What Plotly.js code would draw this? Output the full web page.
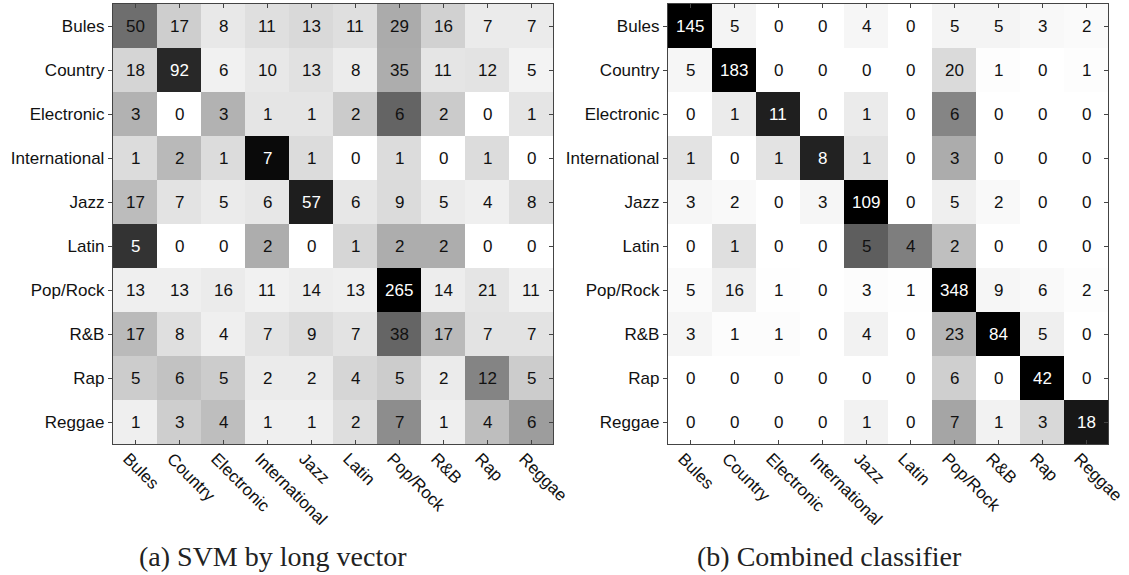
<!DOCTYPE html>
<html>
<head>
<meta charset="utf-8">
<script src="https://cdn.plot.ly/plotly-3.0.1.min.js"></script>
<style>
  html, body { margin: 0; padding: 0; background: #fff; }
  #chart { width: 1129px; height: 575px; }
</style>
</head>
<body>
<div id="chart"></div>
<script>
// Genre labels (rows = true class, columns = predicted class)
const genres = ["Bules", "Country", "Electronic", "International", "Jazz",
                "Latin", "Pop/Rock", "R&B", "Rap", "Reggae"];

// Confusion counts: SVM by long vector
const svmCounts = [
  [50, 17, 8, 11, 13, 11, 29, 16, 7, 7],
  [18, 92, 6, 10, 13, 8, 35, 11, 12, 5],
  [3, 0, 3, 1, 1, 2, 6, 2, 0, 1],
  [1, 2, 1, 7, 1, 0, 1, 0, 1, 0],
  [17, 7, 5, 6, 57, 6, 9, 5, 4, 8],
  [5, 0, 0, 2, 0, 1, 2, 2, 0, 0],
  [13, 13, 16, 11, 14, 13, 265, 14, 21, 11],
  [17, 8, 4, 7, 9, 7, 38, 17, 7, 7],
  [5, 6, 5, 2, 2, 4, 5, 2, 12, 5],
  [1, 3, 4, 1, 1, 2, 7, 1, 4, 6]
];

// Confusion counts: combined classifier
const combinedCounts = [
  [145, 5, 0, 0, 4, 0, 5, 5, 3, 2],
  [5, 183, 0, 0, 0, 0, 20, 1, 0, 1],
  [0, 1, 11, 0, 1, 0, 6, 0, 0, 0],
  [1, 0, 1, 8, 1, 0, 3, 0, 0, 0],
  [3, 2, 0, 3, 109, 0, 5, 2, 0, 0],
  [0, 1, 0, 0, 5, 4, 2, 0, 0, 0],
  [5, 16, 1, 0, 3, 1, 348, 9, 6, 2],
  [3, 1, 1, 0, 4, 0, 23, 84, 5, 0],
  [0, 0, 0, 0, 0, 0, 6, 0, 42, 0],
  [0, 0, 0, 0, 1, 0, 7, 1, 3, 18]
];

const panelCaptions = ["(a) SVM by long vector", "(b) Combined classifier"];

// Shade each cell by its share of the row total
function rowShares(counts) {
  return counts.map(row => {
    const total = row.reduce((a, b) => a + b, 0);
    return row.map(v => total ? v / total : 0);
  });
}

const grayScale = [[0, "#ffffff"], [1, "#000000"]];
const panels = [
  { counts: svmCounts, xa: "x", ya: "y", zmax: 0.52 },
  { counts: combinedCounts, xa: "x2", ya: "y2", zmax: 0.66 }
];

const labelFamily = "Liberation Sans, Arial, Helvetica, sans-serif";

const traces = [];
const annotations = [];
panels.forEach(p => {
  const z = rowShares(p.counts);
  traces.push({
    type: "heatmap",
    x: genres, y: genres, z: z,
    xaxis: p.xa, yaxis: p.ya,
    colorscale: grayScale, zmin: 0, zmax: p.zmax,
    showscale: false, hoverinfo: "skip"
  });
  p.counts.forEach((row, i) => {
    row.forEach((v, j) => {
      const dark = z[i][j] / p.zmax > 0.7;
      annotations.push({
        x: genres[j], y: genres[i], xref: p.xa, yref: p.ya,
        text: String(v), showarrow: false,
        font: { family: labelFamily, size: 17,
                color: dark ? "#ffffff" : "#111111" }
      });
    });
  });
});

// Sub-figure captions
[[0.2418, panelCaptions[0]], [0.7343, panelCaptions[1]]].forEach(([x, t]) => {
  annotations.push({
    x: x, y: -0.2568, xref: "paper", yref: "paper",
    xanchor: "center", yanchor: "middle", showarrow: false, text: t,
    font: { family: "Liberation Serif, Times New Roman, serif", size: 28, color: "#222" }
  });
});

const tickFont = { family: labelFamily, size: 17, color: "#111" };
function xAxis(domain, anchor) {
  return {
    domain: domain, anchor: anchor, type: "category",
    categoryorder: "array", categoryarray: genres,
    range: [-0.5, 9.5], tickangle: 45, tickfont: tickFont,
    ticklabelshift: -7, ticklabelstandoff: -3,
    ticks: "inside", ticklen: 4, tickcolor: "#444", mirror: "ticks",
    showline: true, linecolor: "#444", linewidth: 1.2,
    showgrid: false, zeroline: false, fixedrange: true
  };
}
function yAxis(anchor) {
  return {
    domain: [0, 1], anchor: anchor, type: "category",
    categoryorder: "array", categoryarray: genres,
    range: [9.5, -0.5], tickfont: tickFont,
    ticks: "outside", ticklen: 4, tickcolor: "#444",
    showline: true, linecolor: "#444", linewidth: 1.2, mirror: true,
    showgrid: false, zeroline: false, fixedrange: true
  };
}
// Right-hand axes carrying only the inward tick marks
function rightTicks(overlay, anchor) {
  return {
    overlaying: overlay, anchor: anchor, side: "right", type: "category",
    categoryorder: "array", categoryarray: genres, range: [9.5, -0.5],
    showticklabels: false, ticks: "inside", ticklen: 4, tickcolor: "#444",
    tickvals: genres, showgrid: false, zeroline: false, showline: false,
    fixedrange: true
  };
}

const layout = {
  width: 1129, height: 575,
  margin: { l: 0, r: 0, t: 4, b: 131 },
  paper_bgcolor: "#ffffff", plot_bgcolor: "#ffffff",
  showlegend: false,
  xaxis: xAxis([113 / 1129, 553 / 1129], "y"),
  yaxis: yAxis("x"),
  xaxis2: xAxis([668 / 1129, 1108 / 1129], "y2"),
  yaxis2: yAxis("x2"),
  yaxis3: rightTicks("y", "x"),
  yaxis4: rightTicks("y2", "x2"),
  annotations: annotations
};

// Empty traces so the overlay tick axes get drawn
traces.push({ type: "scatter", x: [], y: [], xaxis: "x", yaxis: "y3", hoverinfo: "skip" });
traces.push({ type: "scatter", x: [], y: [], xaxis: "x2", yaxis: "y4", hoverinfo: "skip" });

Plotly.newPlot("chart", traces, layout, { staticPlot: true });
</script>
</body>
</html>
